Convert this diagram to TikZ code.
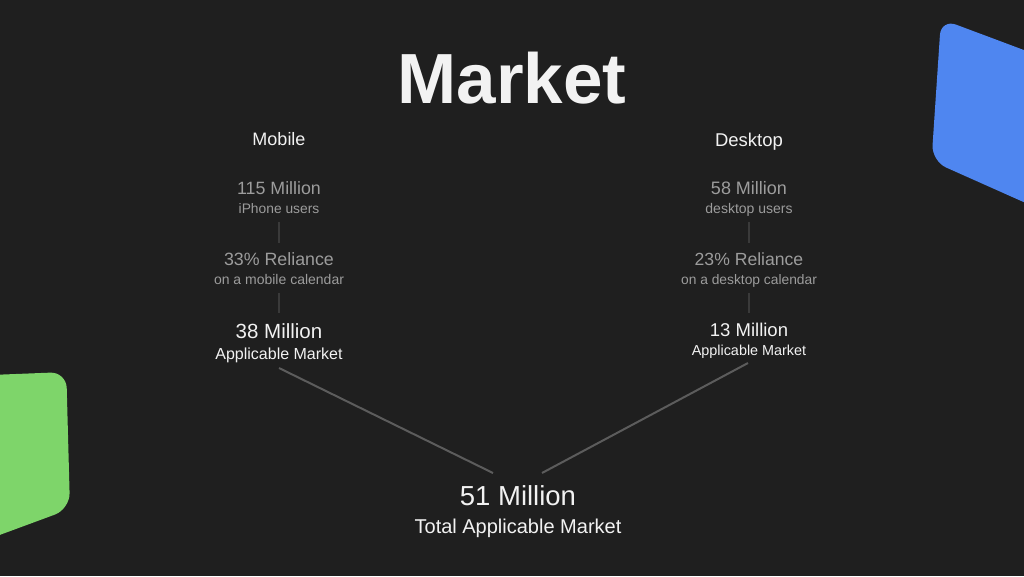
\documentclass[tikz,border=0pt]{standalone}
\usepackage{fontspec}
\setmainfont{Liberation Sans}
\definecolor{bg}{HTML}{1F1F1F}
\definecolor{txtw}{HTML}{F2F2F2}
\definecolor{txtg}{HTML}{9C9C9C}
\definecolor{vline}{HTML}{3A3A3A}
\definecolor{dline}{HTML}{5C5C5C}
\definecolor{blueshape}{HTML}{4F86F0}
\definecolor{greenshape}{HTML}{7ED56A}
\newcommand{\fs}[1]{\fontsize{#1}{#1}\selectfont}
\begin{document}
\begin{tikzpicture}[x=1pt,y=-1pt,
  lbl/.style={inner sep=0pt,anchor=base},
  wtxt/.style={lbl,text=txtw},
  gtxt/.style={lbl,text=txtg},
  vconn/.style={draw=vline,line width=2pt},
  dconn/.style={draw=dline,line width=2pt}]
\useasboundingbox (0,0) rectangle (1024,576);
\fill[bg] (0,0) rectangle (1024,576);
% decorative shapes
\fill[blueshape,rounded corners=16pt] (941,19) -- (1120,86) -- (1120,245) -- (931.5,161) -- cycle;
\fill[greenshape,rounded corners=16pt] (-60,377) -- (66.3,372) -- (70,509) -- (-60,557) -- cycle;
% title
\node[wtxt,font=\bfseries\fs{71}] (title) at (512,103.4) {Market};
% mobile column
\node[wtxt,font=\fs{18}] (mob) at (279,145.5) {Mobile};
\node[gtxt,font=\fs{17.8}] (m1) at (279,194) {115 Million};
\node[gtxt,font=\fs{13.8}] (m1s) at (279,213) {iPhone users};
\node[gtxt,font=\fs{17.8}] (m2) at (279,265) {33\% Reliance};
\node[gtxt,font=\fs{14}] (m2s) at (279,284) {on a mobile calendar};
\node[wtxt,font=\fs{20.5}] (m3) at (279,338) {38 Million};
\node[wtxt,font=\fs{16}] (m3s) at (279,359) {Applicable Market};
% desktop column
\node[wtxt,font=\fs{18.5}] (desk) at (749,146.5) {Desktop};
\node[gtxt,font=\fs{18}] (d1) at (749,194) {58 Million};
\node[gtxt,font=\fs{14}] (d1s) at (749,213) {desktop users};
\node[gtxt,font=\fs{17.6}] (d2) at (749,265) {23\% Reliance};
\node[gtxt,font=\fs{13.8}] (d2s) at (749,284) {on a desktop calendar};
\node[wtxt,font=\fs{18.5}] (d3) at (749,336.5) {13 Million};
\node[wtxt,font=\fs{14.4}] (d3s) at (749,355) {Applicable Market};
% total
\node[wtxt,font=\fs{27.5}] (tot) at (518,505) {51 Million};
\node[wtxt,font=\fs{20}] (tots) at (518,533.5) {Total Applicable Market};
% connector end points
\coordinate (m1e) at (279,222);
\coordinate (m2b) at (279,243);
\coordinate (m2e) at (279,293);
\coordinate (m3b) at (279,313);
\coordinate (d1e) at (749,222);
\coordinate (d2b) at (749,243);
\coordinate (d2e) at (749,293);
\coordinate (d3b) at (749,313);
\coordinate (mend) at (279,368);
\coordinate (dend) at (748,363);
\coordinate (tl) at (493,473);
\coordinate (tr) at (542,473);
\draw[vconn] (m1e) -- (m2b);
\draw[vconn] (m2e) -- (m3b);
\draw[vconn] (d1e) -- (d2b);
\draw[vconn] (d2e) -- (d3b);
\draw[dconn] (mend) -- (tl);
\draw[dconn] (dend) -- (tr);
\end{tikzpicture}
\end{document}
